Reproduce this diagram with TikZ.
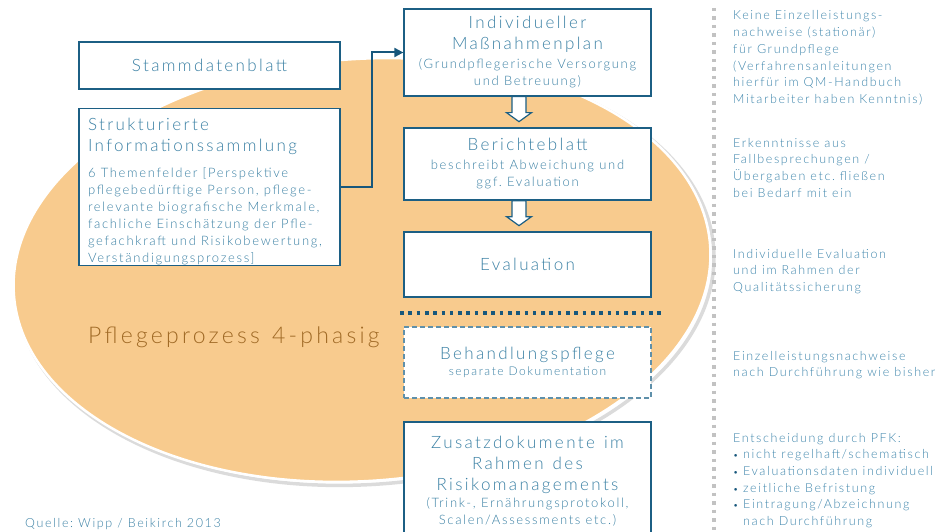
\documentclass[tikz,border=0pt]{standalone}
\usepackage{fontspec}
\setmainfont{Lato Light}[LetterSpace=13]
\newfontfamily\headfont{Lato Light}[LetterSpace=14, WordSpace=1.2]
\newfontfamily\phasefont{Lato Light}[LetterSpace=14, WordSpace=1.3]
\usetikzlibrary{shapes.geometric,arrows.meta,calc}

\definecolor{txtblue}{HTML}{3A80A4}
\definecolor{notblue}{HTML}{3F86AC}
\definecolor{boxblue}{HTML}{1C5F84}
\definecolor{linkblue}{HTML}{17577C}
\definecolor{dashblue}{HTML}{5F90AA}
\definecolor{phasefill}{HTML}{F8CB8E}
\definecolor{phasetext}{HTML}{A06A26}
\definecolor{dotgray}{HTML}{C2C2C2}

% word gaps: the natural space of the font in force, without stretch
\newcommand\natspace{\spaceskip=\fontdimen2\font\xspaceskip=\fontdimen2\font\relax}
\newcommand\headsize{\headfont\fontsize{17}{21}\selectfont\natspace}
\newcommand\bodysize{\fontsize{13}{17}\selectfont\natspace}
\newcommand\notesize{\fontsize{12.5}{16.7}\selectfont\natspace}
\newcommand\itm{\makebox[10pt][l]{\color{linkblue}\fontsize{9}{9}\selectfont\textbullet}}
\frenchspacing

\begin{document}
\begin{tikzpicture}[x=1pt,y=-1pt,
  box/.style={draw=boxblue, line width=1.3pt, fill=white, minimum width=247pt,
    inner sep=0pt, text width=240pt, align=center, text=txtblue},
  dashbox/.style={box, draw=dashblue, line width=1.6pt, dash pattern=on 5pt off 3pt},
  blockarrow/.style={draw=boxblue, line width=1.2pt, fill=white, line join=miter},
  link/.style={draw=linkblue, line width=2pt, -{Triangle[length=9pt,width=9pt]}},
  note/.style={anchor=base west, inner sep=0pt, text width=215pt, align=left,
    text=notblue, font=\notesize},
]
\useasboundingbox (0,0) rectangle (947,532);

% the care process as a large, slightly tilted ellipse with a soft shadow
\node[ellipse, rotate=4, draw=black!14, line width=3.5pt,
  minimum width=699pt, minimum height=423pt] (phaseshade) at (365,273) {};
\node[ellipse, rotate=4, draw=white, line width=2.5pt, fill=phasefill,
  minimum width=698pt, minimum height=422pt] (phase) at (362,270) {};
\node[anchor=base west, inner sep=0pt, text=phasetext, font=\phasefont\fontsize{23}{27}\selectfont]
  (phaselabel) at (88,343) {Pflegeprozess 4-phasig};

% left column
\node[box, minimum width=261pt, minimum height=47pt] (stamm) at (209.5,65.5)
  {\headsize Stammdatenblatt};
\node[box, minimum width=261pt, minimum height=150pt, text width=243pt, align=left]
  (struct) at (209.5,187)
  {{\headsize\rule{0pt}{22pt}Strukturierte\\Informationssammlung\par}\vspace{9pt}
   {\bodysize 6 Themenfelder [Perspektive\\pflegebedürftige Person, pflege-\\relevante biografische Merkmale,\\fachliche Einschätzung der Pfle-\\gefachkraft und Risikobewertung,\\Verständigungsprozess]\par}};

% middle column
\node[box, minimum height=87pt] (ind) at (527.5,52.5)
  {{\headsize Individueller\\Maßnahmenplan\par}\vspace{2pt}
   {\bodysize (Grundpflegerische Versorgung\\und Betreuung)\par}};
\node[box, minimum height=72pt] (ber) at (527.5,164)
  {{\headsize Berichteblatt\par}\vspace{2pt}
   {\bodysize beschreibt Abweichung und\\ggf. Evaluation\par}};
\node[box, minimum height=65pt] (eval) at (527.5,264.5)
  {\headsize Evaluation};
\node[dashbox, minimum height=71pt] (beh) at (527.5,362.5)
  {{\headsize Behandlungspflege\par}\vspace{1pt}
   {\fontsize{12}{15}\selectfont\natspace separate Dokumentation\par}};
\node[box, minimum height=118pt] (zus) at (527.5,481)
  {{\headsize Zusatzdokumente im\\Rahmen des\\Risikomanagements\par}
   {\bodysize (Trink-, Ernährungsprotokoll,\\Scalen/Assessments etc.)\par}};

% hollow block arrows between the documents
\draw[blockarrow] ([xshift=-8.5pt]ind.south) +(-7,0) -- +(-7,16) -- +(-12.5,16)
  -- +(0,25) -- +(12.5,16) -- +(7,16) -- +(7,0) -- cycle;
\draw[blockarrow] ([xshift=-8.5pt]ber.south) +(-7,0) -- +(-7,16) -- +(-12.5,16)
  -- +(0,25) -- +(12.5,16) -- +(7,16) -- +(7,0) -- cycle;

% data collection feeds the plan
\draw[link] (struct.east) -- ++(31,0) |- (ind.west);

% separator between the four phases and the extra documents
\draw[linkblue, line width=3.6pt, dash pattern=on 3.6pt off 4.7pt] (400,313) -- (662,313);

% gray divider of the notes column
\draw[dotgray, line width=3.5pt, dash pattern=on 3.5pt off 5pt] (714,8) -- (714,532);

% notes
\node[note] (n1) at (733,20) {\notesize Keine Einzelleistungs-\\nachweise (stationär)\\für Grundpflege\\(Verfahrensanleitungen\\hierfür im QM-Handbuch\\Mitarbeiter haben Kenntnis)};
\node[note] (n2) at (733,147) {\notesize Erkenntnisse aus\\Fallbesprechungen /\\Übergaben etc. fließen\\bei Bedarf mit ein};
\node[note] (n3) at (733,258) {\notesize Individuelle Evaluation\\und im Rahmen der\\Qualitätssicherung};
\node[note] (n4) at (733,360) {\notesize Einzelleistungsnachweise\\nach Durchführung wie bisher};
\node[note] (n5) at (733,442) {\notesize Entscheidung durch PFK:\\\itm nicht regelhaft/schematisch\\\itm Evaluationsdaten individuell\\\itm zeitliche Befristung\\\itm Eintragung/Abzeichnung\\\hspace*{10pt}nach Durchführung};

% source
\node[anchor=base west, inner sep=0pt, text=txtblue, font=\fontsize{12.5}{16}\selectfont]
  (src) at (25,527) {Quelle: Wipp / Beikirch 2013};
\end{tikzpicture}
\end{document}
